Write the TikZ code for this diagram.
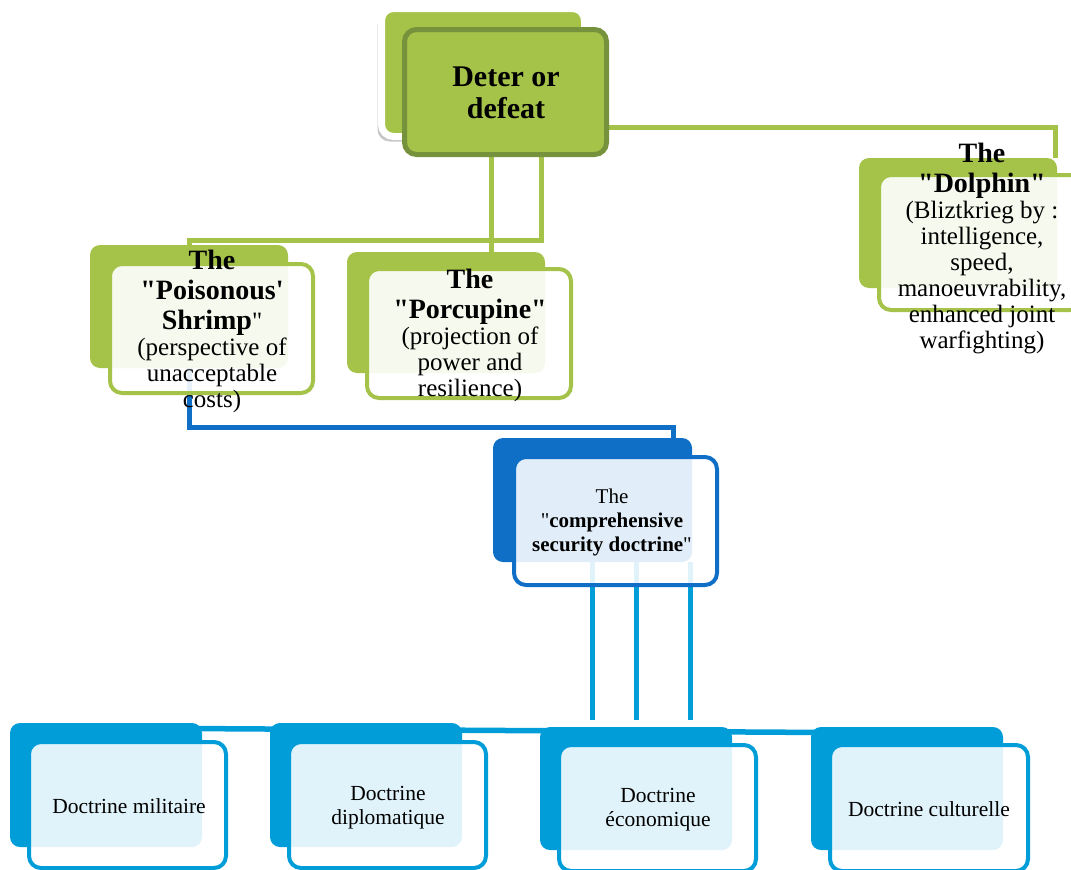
\documentclass[tikz,border=0pt]{standalone}
\usepackage{fontspec}
\setmainfont{Liberation Serif}[Ligatures=TeXOff]
\usetikzlibrary{shadows}
\pgfdeclarelayer{bg}
\pgfsetlayers{bg,main}
\definecolor{gfill}{HTML}{A5C249}
\definecolor{gdark}{HTML}{76923C}
\definecolor{bdark}{HTML}{0F6FC6}
\definecolor{bcyan}{HTML}{009DD9}
\newcommand\ttlfont{\fontsize{28}{30}\selectfont\bfseries}
\tikzset{
 backbox/.style={rectangle, rounded corners=10pt, inner sep=0pt, draw=none},
 frontbox/.style={rectangle, rounded corners=12pt, inner sep=0pt, fill=white, fill opacity=0.9, line width=4pt},
 gback/.style={backbox, fill=gfill},
 gfront/.style={frontbox, draw=gfill},
 cback/.style={backbox, fill=bdark},
 cfront/.style={frontbox, draw=bdark, fill opacity=0.88},
 dback/.style={backbox, fill=bcyan, minimum width=192pt},
 dfront/.style={frontbox, draw=bcyan, fill opacity=0.88, minimum width=197pt, minimum height=126pt},
 gline/.style={draw=gfill, line width=5pt},
 bline/.style={draw=bdark, line width=5pt},
 cline/.style={draw=bcyan, line width=5pt},
 txt/.style={align=center, inner sep=0pt, text=black},
 bigtxt/.style={txt, font={\fontsize{25}{26}\selectfont}},
 doctxt/.style={txt, font={\fontsize{21.5}{24}\selectfont}},
}
\begin{document}
\begin{tikzpicture}[x=1pt,y=-1pt]
\clip (0,0) rectangle (1071,870);

% top node
\node[backbox, fill=gfill, draw=white, line width=7pt, rounded corners=12pt,
      drop shadow={opacity=0.45, shadow xshift=-4pt, shadow yshift=-5pt},
      minimum width=203pt, minimum height=128pt] (deterB) at (483,72.5) {};
\node[rectangle, rounded corners=12pt, inner sep=0pt, fill=gfill, draw=gdark, line width=5pt,
      minimum width=202pt, minimum height=125pt] (deterF) at (505.5,92) {};
\node[txt, font={\fontsize{30}{32}\selectfont\bfseries}] (deterT) at (506,93) {Deter or\\defeat};

% shrimp
\node[gback, minimum width=198pt, minimum height=123pt] (shrB) at (189,306.5) {};
\node[gfront, minimum width=203pt, minimum height=129pt] (shrF) at (211.5,328.5) {};
\node[bigtxt] (shrT) at (212,331) {{\ttlfont The}\\[4pt] {\ttlfont "Poisonous'}\\[4pt] {\ttlfont Shrimp}"\\ (perspective of\\ unacceptable\\ costs)};

% porcupine
\node[gback, minimum width=198pt, minimum height=121pt] (porcB) at (446,312.5) {};
\node[gfront, minimum width=204pt, minimum height=129pt] (porcF) at (469,333.5) {};
\node[bigtxt] (porcT) at (470,335) {{\ttlfont The}\\[4pt] {\ttlfont "Porcupine"}\\ (projection of\\ power and\\ resilience)};

% dolphin
\node[gback, minimum width=198pt, minimum height=130pt] (dolB) at (958,223) {};
\node[gfront, minimum width=203pt, minimum height=135pt] (dolF) at (980.5,242.5) {};
\node[bigtxt] (dolT) at (982,248) {{\ttlfont The}\\[4pt] {\ttlfont"Dolphin"}\\ (Bliztkrieg by :\\ intelligence,\\ speed,\\ manoeuvrability,\\ enhanced joint\\ warfighting)};

% comprehensive
\node[cback, minimum width=199pt, minimum height=124pt] (compB) at (592.5,500) {};
\node[cfront, minimum width=203pt, minimum height=128pt] (compF) at (615.5,521) {};
\node[txt, font={\fontsize{21}{24}\selectfont}] (compT) at (612,522) {The\\ "{\bfseries comprehensive}\\ {\bfseries security doctrine}"};

% bottom row
\node[dback, minimum height=124pt] (milB) at (106,785) {};
\node[dfront] (milF) at (127.5,805) {};
\node[doctxt] (milT) at (129,806) {Doctrine militaire};

\node[dback, minimum height=124pt] (dipB) at (366,785) {};
\node[dfront] (dipF) at (387.5,805) {};
\node[doctxt] (dipT) at (388,808) {Doctrine\\ diplomatique};

\node[dback, minimum height=123pt] (ecoB) at (636,788.5) {};
\node[dfront] (ecoF) at (657.5,808) {};
\node[doctxt] (ecoT) at (658,810) {Doctrine\\ économique};

\node[dback, minimum height=123pt] (cultB) at (907,788.5) {};
\node[dfront, minimum width=198pt] (cultF) at (929,808) {};
\node[doctxt] (cultT) at (929,809) {Doctrine culturelle};

% connectors
\coordinate (gR) at (1055,127);
\coordinate (gP) at (491,200);
\coordinate (gS) at (541,240);
\coordinate (bC) at (673,427);
\coordinate (v1) at (592,720);
\coordinate (v2) at (636,720);
\coordinate (v3) at (690,720);
\coordinate (busL) at (106,728);
\coordinate (busR) at (907,733);
\begin{pgfonlayer}{bg}
\draw[gline] (deterF.east |- gR) -- (gR) -- (gR |- dolB.north);
\draw[gline] (gP |- deterF.south) -- (gP |- porcB.north);
\draw[gline] (gS |- deterF.south) -- (gS) -| (shrB.north);
\draw[bline] (shrB.south) |- (bC) -- (bC |- compB.north);
\draw[cline] (v1 |- compB.south) -- (v1);
\draw[cline] (v2 |- compB.south) -- (v2);
\draw[cline] (v3 |- compB.south) -- (v3);
\draw[cline, line width=5.5pt] (milB.center |- busL) -- (cultB.center |- busR);
\end{pgfonlayer}
\end{tikzpicture}
\end{document}
